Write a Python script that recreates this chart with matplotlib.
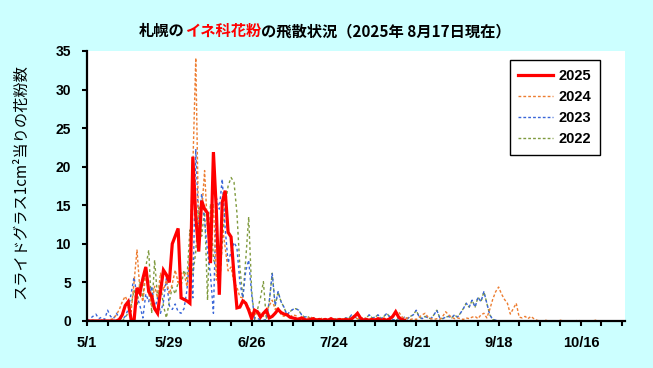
import matplotlib
matplotlib.use("Agg")
import matplotlib.pyplot as plt
from matplotlib.lines import Line2D

# ---------------- data (daily values from 5/1) ----------------
tick_labels = ["5/1", "5/29", "6/26", "7/24", "8/21", "9/18", "10/16"]
series_names = ["2025", "2024", "2023", "2022"]

y2025 = [0, 0, 0, 0, 0, 0, 0, 0, 0, 0,
         0, 0.2, 0.8, 2.0, 2.5, 0.2, 0, 4.3, 3.6, 5.5,
         7.0, 3.8, 3.2, 1.6, 1.0, 3.8, 6.6, 6.0, 5.0, 10.0,
         11.0, 12.0, 3.0, 2.8, 2.6, 2.3, 21.3, 13.5, 9.0, 15.6,
         14.5, 14.0, 7.5, 21.9, 14.3, 3.4, 15.4, 16.9, 11.5, 10.9,
         6.0, 1.7, 1.8, 2.6, 2.3, 1.4, 0.3, 1.4, 1.2, 0.5,
         1.0, 1.4, 0.4, 0.6, 1.0, 1.5, 1.1, 0.9, 0.8, 0.5,
         0.4, 0.3, 0.2, 0.4, 0.2, 0.1, 0.2, 0.3, 0.1, 0.2,
         0.1, 0.2, 0.1, 0.3, 0.1, 0.1, 0.2, 0.1, 0.2, 0.1,
         0.3, 0.6, 1.0, 0.4, 0.1, 0.2, 0.1, 0.2, 0.1, 0.3,
         0.1, 0.2, 0.1, 0.3, 0.6, 1.2, 0.5, 0.2, 0.1]

y2024 = [0, 0, 0.1, 0, 0, 0.1, 0, 0, 0.2, 0.3,
         0.8, 1.5, 2.5, 3.2, 2.4, 1.2, 5.0, 9.2, 4.0, 2.5,
         6.2, 3.5, 2.0, 4.5, 3.0, 6.2, 4.0, 5.3, 3.5, 4.8,
         6.6, 5.0, 6.2, 6.2, 4.5, 9.0, 20.0, 34.1, 10.9, 14.0,
         19.5, 11.8, 10.0, 15.2, 5.3, 8.0, 12.5, 9.5, 6.5, 7.0,
         5.0, 4.4, 3.1, 3.0, 2.3, 1.8, 1.0, 0.8, 1.2, 1.0,
         0.6, 1.2, 2.0, 2.7, 1.5, 1.8, 0.8, 0.6, 0.9, 0.5,
         0.8, 0.7, 0.4, 0.5, 0.3, 0.3, 0.6, 0.2, 0.3, 0.2,
         0.4, 0.2, 0.3, 0.2, 0.2, 0.4, 0.2, 0.3, 0.2, 0.3,
         0.2, 0.4, 0.3, 0.2, 0.5, 0.3, 0.2, 0.4, 0.3, 0.2,
         0.3, 0.4, 0.2, 0.3, 0.5, 0.8, 1.2, 0.6, 0.3, 0.4,
         0.2, 0.3, 0.2, 0.5, 0.8, 1.0, 0.5, 0.3, 0.2, 0.3,
         0.2, 0.6, 1.2, 0.8, 0.5, 0.3, 0.4, 0.3, 0.2, 0.4,
         0.3, 0.5, 0.6, 0.3, 0.8, 1.0, 0.4, 1.5, 2.8, 3.8,
         4.4, 3.5, 2.8, 2.3, 0.9, 1.6, 2.3, 0.5, 0.4, 0.6,
         0.3, 0.6, 0.3, 0.1, 0, 0, 0.1, 0, 0, 0,
         0, 0.1, 0, 0, 0, 0, 0, 0.1, 0, 0,
         0, 0, 0, 0.1, 0, 0, 0, 0, 0, 0,
         0, 0, 0]

y2023 = [0, 0.3, 0.6, 0.9, 0.3, 0.5, 0.2, 1.4, 0.6, 0.3,
         1.0, 0.4, 0.2, 0.6, 1.5, 3.5, 5.7, 3.2, 2.0, 0.4,
         3.5, 2.5, 4.5, 1.5, 3.0, 1.0, 2.5, 5.5, 2.0, 1.5,
         2.2, 1.2, 1.0, 1.6, 4.0, 8.7, 3.0, 22.3, 12.0, 16.5,
         13.0, 9.0, 6.0, 1.0, 16.0, 14.5, 18.4, 12.0, 7.5, 9.0,
         10.2, 9.5, 5.0, 3.0, 6.5, 7.9, 3.5, 0.3, 0.3, 0.2,
         0.1, 0.2, 2.5, 6.2, 2.0, 3.8, 2.5, 1.8, 0.8, 1.2,
         1.5, 1.6, 1.4, 0.8, 0.5, 0.6, 0.3, 0.4, 0.2, 0.3,
         0.2, 0.3, 0.2, 0.1, 0.3, 0.2, 0.1, 0.2, 0.4, 0.3,
         0.8, 0.6, 0.3, 0.1, 0.2, 0.4, 0.8, 0.4, 0.5, 0.8,
         0.3, 0.6, 1.0, 0.5, 0.2, 0.1, 0.3, 0.2, 0.5, 0.3,
         0.6, 0.8, 1.4, 0.5, 0.3, 0.6, 0.4, 0.3, 0.8, 1.4,
         0.4, 0.3, 0.5, 0.6, 0.4, 0.8, 0.5, 1.0, 1.6, 2.3,
         1.8, 2.7, 1.8, 3.1, 2.5, 3.8, 2.3, 0.8, 0.2, 0.1,
         0, 0, 0, 0, 0, 0, 0, 0, 0, 0,
         0, 0, 0, 0, 0, 0, 0, 0, 0, 0,
         0, 0, 0, 0, 0, 0, 0, 0, 0, 0,
         0, 0, 0, 0, 0, 0, 0, 0, 0, 0,
         0, 0, 0]

y2022 = [0, 0, 0.1, 0, 0, 0, 0.1, 0, 0, 0,
         0, 0.1, 0, 0.5, 1.0, 2.0, 4.0, 2.0, 5.0, 3.0,
         7.0, 9.2, 1.0, 7.9, 3.0, 5.0, 2.0, 0.4, 2.5, 4.4,
         3.5, 5.0, 4.5, 6.6, 5.5, 11.8, 6.0, 9.0, 15.0, 11.0,
         14.5, 2.7, 15.2, 8.0, 7.0, 4.0, 10.0, 15.0, 17.5, 18.6,
         18.0, 14.0, 7.0, 3.0, 8.0, 13.5, 4.0, 0.2, 1.5, 3.0,
         5.1, 0.2, 2.5, 6.2, 2.0, 3.8, 2.5, 1.8, 0.8, 1.2,
         1.5, 1.6, 1.4, 0.8, 0.5, 0.6, 0.3, 0.4, 0.2, 0.3,
         0.2, 0.3, 0.2, 0.1, 0.3, 0.2, 0.1, 0.2, 0.4, 0.3,
         0.8, 0.6, 0.3, 0.1, 0.2, 0.4, 0.8, 0.4, 0.5, 0.8,
         0.3, 0.6, 1.0, 0.5, 0.2, 0.1, 0.3, 0.2, 0.5, 0.3,
         0.6, 0.8, 1.4, 0.5, 0.3, 0.6, 0.4, 0.3, 0.8, 1.4,
         0.4, 0.3, 0.5, 0.6, 0.4, 0.8, 0.5, 1.0, 1.6, 2.3,
         1.8, 2.7, 1.8, 3.1, 2.5, 3.8, 2.3, 0.8, 0.2, 0.1,
         0, 0, 0, 0, 0, 0, 0, 0, 0, 0,
         0, 0, 0, 0, 0, 0, 0, 0, 0, 0,
         0, 0, 0, 0, 0, 0, 0, 0, 0, 0,
         0, 0, 0, 0, 0, 0, 0, 0, 0, 0,
         0, 0, 0]

# ---------------- figure ----------------
BG = "#CCFFFF"
plt.rcParams["font.family"] = ["Liberation Sans", "Noto Sans CJK JP", "DejaVu Sans"]

fig = plt.figure(figsize=(6.53, 3.68), dpi=100, facecolor=BG)
ax = fig.add_axes([87 / 653, 1 - 321 / 368, (625 - 87) / 653, (321 - 51) / 368])
ax.set_facecolor("white")

c25, c24, c23, c22 = "#FF0000", "#ED7D31", "#3A66D8", "#7F9A3E"

l22, = ax.plot(range(len(y2022)), y2022, color=c22, lw=1.0, ls=(2, (2, 2)))
l23, = ax.plot(range(len(y2023)), y2023, color=c23, lw=1.0, ls=(0, (2, 2)))
l24, = ax.plot(range(len(y2024)), y2024, color=c24, lw=1.0, ls=(0, (2, 1.5)))
l25, = ax.plot(range(len(y2025)), y2025, color=c25, lw=2.3, solid_joinstyle="miter")

ax.set_xlim(0, 183)
ax.set_ylim(0, 35)
ax.set_xticks([28 * i for i in range(len(tick_labels))])
ax.set_xticklabels(tick_labels)
ax.set_xticks([7 * i for i in range(27)], minor=True)
ax.set_yticks(range(0, 36, 5))

for s in ["top", "right"]:
    ax.spines[s].set_visible(False)
for s in ["left", "bottom"]:
    ax.spines[s].set_linewidth(1.6)
    ax.spines[s].set_color("black")

ax.tick_params(axis="both", which="both", direction="out", length=3.5, width=1.5, color="black")
ax.tick_params(axis="x", which="major", pad=7, labelsize=10.5)
ax.tick_params(axis="y", which="major", pad=8, labelsize=10)
for lab in ax.get_xticklabels() + ax.get_yticklabels():
    lab.set_fontweight("bold")

# legend
h1 = Line2D([], [], color=c25, lw=2.3)
h2 = Line2D([], [], color=c24, lw=1.0, ls=(0, (2, 1.5)))
h3 = Line2D([], [], color=c23, lw=1.0, ls=(0, (2, 1.5)))
h4 = Line2D([], [], color=c22, lw=1.0, ls=(0, (2, 1.5)))
leg = ax.legend([h1, h2, h3, h4], series_names, loc="upper right",
                bbox_to_anchor=((600 - 87) / 538, (321 - 60) / 270),
                frameon=True, fancybox=False, edgecolor="black", framealpha=1,
                prop={"family": "Liberation Sans", "weight": "bold", "size": 10.5},
                handlelength=2.4, handletextpad=0.35, labelspacing=0.48,
                borderpad=0.6, borderaxespad=0)
leg.get_frame().set_linewidth(1.0)

# y label
fig.text(21 / 653, 1 - 182 / 368, "スライドグラス1cm²当りの花粉数", rotation=90,
         ha="center", va="center", fontsize=11,
         family=["Noto Sans CJK JP", "DejaVu Sans"])

# title with coloured part
parts = [("札幌の", "black"), ("イネ科花粉", "#FF0000"),
         ("の飛散状況（2025年 8月17日現在）", "black")]
renderer = fig.canvas.get_renderer()
texts = []
for s, col in parts:
    t = fig.text(0, 1 - 31 / 368, s, color=col, fontsize=11, fontweight="bold",
                 ha="left", va="center", family=["Noto Sans CJK JP", "DejaVu Sans"])
    texts.append(t)
widths = [t.get_window_extent(renderer).width for t in texts]
total = sum(widths)
x0 = 325 - total / 2
for t, w in zip(texts, widths):
    t.set_x(x0 / 653)
    x0 += w

fig.savefig("out.png", dpi=100, facecolor=BG)
